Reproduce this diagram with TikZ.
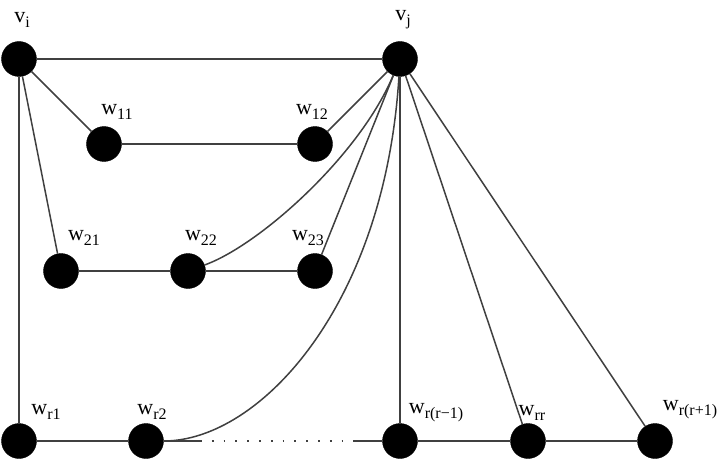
\documentclass[tikz,border=0pt]{standalone}
\usepackage{fontspec}
\setmainfont{Liberation Serif}
\newcommand{\lbl}[2]{{\fontsize{22}{22}\selectfont #1\raisebox{-5pt}{\fontsize{16}{16}\selectfont #2}}}
\begin{document}
\begin{tikzpicture}[x=1pt,y=1pt,
  vert/.style={circle,fill=black,draw=black,minimum size=35pt,inner sep=0pt},
  edge/.style={draw=black!75,line width=1.5pt},
  lab/.style={inner sep=0pt}]
\useasboundingbox (0,0) rectangle (726,475);
% vertices
\node[vert] (vi) at (19,416) {};
\node[vert] (vj) at (400,416) {};
\node[vert] (w11) at (104,331) {};
\node[vert] (w12) at (315,331) {};
\node[vert] (w21) at (61,204) {};
\node[vert] (w22) at (188,204) {};
\node[vert] (w23) at (315,204) {};
\node[vert] (wr1) at (19,34) {};
\node[vert] (wr2) at (146,34) {};
\node[vert] (wrm) at (400,34) {};
\node[vert] (wrr) at (528,34) {};
\node[vert] (wrp) at (655,34) {};
\coordinate (d1) at (200,34);
\coordinate (d2) at (353,34);
% labels
\node[lab] (lvi) at (22,455) {\lbl{v}{i}};
\node[lab] (lvj) at (403,455) {\lbl{v}{j}};
\node[lab] (l11) at (117,363) {\lbl{w}{11}};
\node[lab] (l12) at (312,363) {\lbl{w}{12}};
\node[lab] (l21) at (84,237) {\lbl{w}{21}};
\node[lab] (l22) at (201,237) {\lbl{w}{22}};
\node[lab] (l23) at (308,237) {\lbl{w}{23}};
\node[lab] (lr1) at (46,63) {\lbl{w}{r1}};
\node[lab] (lr2) at (152,63) {\lbl{w}{r2}};
\node[lab] (lrm) at (436,62) {\lbl{w}{r(r−1)}};
\node[lab] (lrr) at (532,62) {\lbl{w}{rr}};
\node[lab] (lrp) at (690,65) {\lbl{w}{r(r+1)}};
% edges
\draw[edge] (vi) -- (vj);
\draw[edge] (vi) -- (w11);
\draw[edge] (vi) -- (w21);
\draw[edge] (vi) -- (wr1);
\draw[edge] (w11) -- (w12);
\draw[edge] (w12) -- (vj);
\draw[edge] (w21) -- (w22);
\draw[edge] (w22) -- (w23);
\draw[edge] (w23) -- (vj);
\draw[edge] (w22) .. controls (260,230) and (360,320) .. (vj);
\draw[edge] (wr2) .. controls (260,34) and (385,170) .. (vj);
\draw[edge] (vj) -- (wrm);
\draw[edge] (vj) -- (wrr);
\draw[edge] (vj) -- (wrp);
\draw[edge] (wr1) -- (wr2);
\draw[edge] (wr2) -- (d1);
\draw[edge,line width=1.8pt,dash pattern=on 1.8pt off 10pt] (d1) -- (d2);
\draw[edge] (d2) -- (wrm);
\draw[edge] (wrm) -- (wrr);
\draw[edge] (wrr) -- (wrp);
\end{tikzpicture}
\end{document}
